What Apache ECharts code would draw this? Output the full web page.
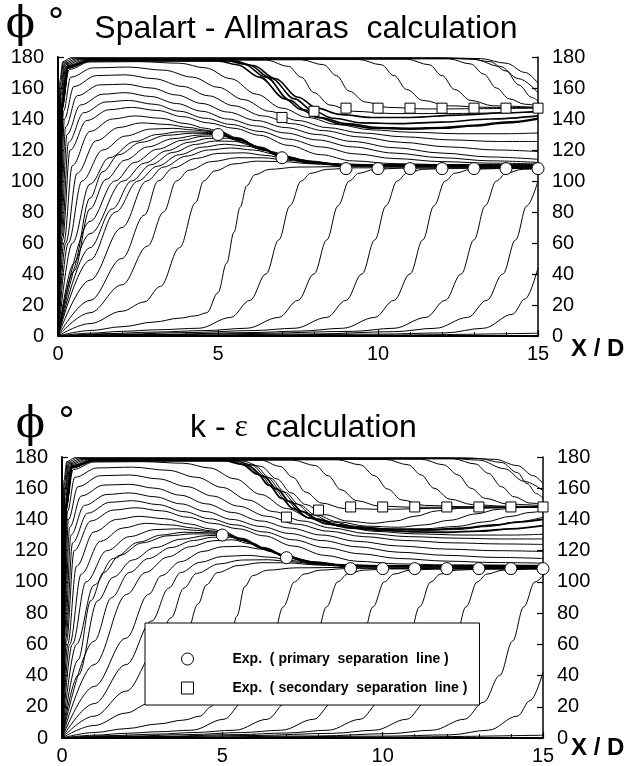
<!DOCTYPE html>
<html><head><meta charset="utf-8">
<script src="https://cdn.jsdelivr.net/npm/echarts@6/dist/echarts.min.js"></script>
<style>html,body{margin:0;padding:0;background:#fff}#c{width:634px;height:766px}</style>
</head><body><div id="c"></div>
<script>
// ---------------- Spalart - Allmaras panel (x/D, phi in degrees) ----------------
const saTopLines = [
 [[0,0],[0.02,90],[0.06,165],[0.15,177],[0.4,179.5],[12,179.5],[13.2,179],[14,176],[14.6,170],[15,163]],
 [[0,0],[0.02,85],[0.07,162],[0.17,176.5],[0.5,179.3],[12,179.3],[13,178.5],[13.8,174],[14.4,166],[15,157]],
 [[0,0],[0.03,80],[0.08,158],[0.2,176],[0.6,179],[12.8,179],[13.5,177],[14,171],[14.4,162],[14.8,154],[15,151.5]],
 [[0,0],[0.03,75],[0.09,155],[0.22,175.5],[0.7,178.8],[12.2,178.8],[12.9,175.5],[13.3,169],[13.7,160],[14.1,153],[14.6,149.5],[15,148.5]],
 [[0,0],[0.04,72],[0.1,152],[0.25,175],[0.8,178.6],[10.9,178.6],[11.6,175],[12,168],[12.4,159],[12.9,152],[13.6,148.5],[15,147.5]],
 [[0,0],[0.04,68],[0.11,150],[0.28,174.5],[0.9,178.4],[9.4,178.4],[10.1,175],[10.5,168],[10.9,159],[11.4,152],[12.2,148.5],[13.5,147.5],[15,147.3]],
 [[0,0],[0.05,65],[0.12,148],[0.3,174],[1,178.2],[7.6,178.2],[8.3,175],[8.7,168],[9.1,158],[9.6,151],[10.3,147.5],[11.5,146.5],[15,147]],
 [[0,0],[0.05,62],[0.13,146],[0.32,173.5],[1.1,178],[6.5,178],[7.2,174],[7.6,167],[8.0,157],[8.5,149],[9.2,145],[10.5,143.5],[12,143.5],[15,144.5]]
];
const saBoldLines = [
 [[0,0],[0.04,70],[0.12,150],[0.3,174],[1,178],[5.2,178],[5.8,175.5],[6.5,167],[7.25,152],[7.7,146],[8.2,141],[9,137],[10,134.5],[11,134],[12,134.5],[13,136],[14,138],[15,140.5]],
 [[0,0],[0.045,68],[0.13,149],[0.32,173.5],[1,177.7],[5.0,177.5],[5.6,175],[6.3,167],[7.1,153],[7.6,146],[8.1,141],[8.9,136.5],[9.9,134],[11,133.5],[12,134],[13,135.5],[14,137.5],[15,140]],
 [[0,0],[0.045,66],[0.13,147],[0.32,173],[1,177.6],[5.5,177.6],[6.1,174.5],[6.8,166],[7.5,154],[8.1,147],[8.8,143],[9.8,141],[11,141],[12.5,142.5],[14,144],[15,145]],
 [[0,0],[0.045,67],[0.13,148],[0.32,173.2],[1,177.8],[5.35,177.8],[5.95,175],[6.65,166.5],[7.4,153],[7.95,145.5],[8.6,140.5],[9.5,137.5],[10.7,137],[12,138],[13.5,140],[15,142]]
];
const saMidLines = [
 [[0,0],[0.05,75],[0.14,150],[0.35,172],[1,176.8],[2.5,177],[3.8,176],[4.6,173],[5.4,166],[6.2,156],[7,147],[7.8,141],[8.7,136.5],[9.8,133],[11,131.5],[12.5,130.5],[14,130.5],[15,131]],
 [[0,0],[0.06,72],[0.17,145],[0.4,167],[1.1,173],[2.2,173.5],[3.3,171.5],[4.2,167],[5,160.5],[5.8,152.5],[6.6,145],[7.5,139],[8.4,134.5],[9.5,131],[10.8,128.5],[12.3,126.5],[13.7,125.5],[15,125.5]],
 [[0,0],[0.07,70],[0.2,140],[0.5,161],[1.2,168],[2.1,168.5],[3,166],[3.9,161],[4.7,155],[5.5,148.5],[6.4,142],[7.3,137],[8.3,132.5],[9.4,128.5],[10.7,125],[12.2,122],[13.7,120],[15,119]],
 [[0,0],[0.08,68],[0.24,135],[0.6,155],[1.3,162],[2.1,162.5],[2.9,160],[3.7,155.5],[4.5,150],[5.3,144.5],[6.2,139],[7.1,134.5],[8.1,130],[9.2,125.5],[10.5,121.5],[12,118],[13.5,115.5],[15,114]],
 [[0,0],[0.1,66],[0.28,130],[0.7,149],[1.4,156],[2.1,157],[2.9,154.5],[3.7,150],[4.5,145],[5.3,140],[6.2,135.5],[7.1,131],[8.1,126.5],[9.2,122],[10.5,118],[12,115],[13.5,113],[15,112]],
 [[0,0],[0.12,64],[0.33,125],[0.8,144],[1.5,151],[2.2,152],[3,149.5],[3.8,145],[4.6,140.5],[5.4,136.5],[6.3,132],[7.2,127],[8.2,122],[9.3,117.5],[10.5,114.5],[12,112.5],[13.5,111.5],[15,111]],
 [[0,0],[0.14,62],[0.38,120],[0.9,139],[1.6,146],[2.3,147.5],[3.1,145.5],[3.9,141.5],[4.7,137.5],[5.5,134],[6.3,129.5],[7.2,123],[8.2,117],[9.2,113],[10.5,111.2],[12,110.6],[15,110.4]]
];
const saConvLines = [
 [[0,0],[0.18,60],[0.45,110],[1,132],[1.7,140],[2.4,142],[3.2,140.5],[4,137],[4.6,134],[5,132.5],[5.6,128],[6.3,122],[7,116.5],[7.8,113],[8.8,111],[10,110.5],[15,110.3]],
 [[0,0],[0.24,60],[0.6,105],[1.2,126],[1.9,134.5],[2.6,137.5],[3.4,136.5],[4.1,134.5],[4.6,132.8],[5,131.8],[5.6,127.6],[6.3,121.6],[7,116.2],[7.8,112.8],[8.8,110.8],[10,110.4],[15,110.2]],
 [[0,0],[0.32,60],[0.75,100],[1.4,120],[2.1,129],[2.9,133.5],[3.6,134],[4.2,133],[4.6,132.2],[5,131.4],[5.6,127.3],[6.3,121.4],[7,116],[7.8,112.6],[8.8,110.7],[10,110.3],[15,110.1]],
 [[0,0],[0.45,60],[1,98],[1.6,115],[2.4,125.5],[3.1,130],[3.8,131.8],[4.4,131.6],[5,131],[5.6,127],[6.3,121.2],[7,115.8],[7.8,112.4],[8.8,110.6],[10,110.2],[15,110]],
 [[0,0],[0.5,47],[1,89],[1.4,106],[1.9,117],[2.6,125],[3.4,129.5],[4.2,130.8],[5,130.6],[5.6,126.7],[6.3,121],[7,115.6],[7.8,112.2],[8.8,110.5],[10,110.1],[15,109.9]],
 [[0,0],[0.5,42],[1,82],[1.5,101],[2.1,113.5],[2.8,122],[3.6,127.3],[4.4,129.6],[5,130.2],[5.6,126.4],[6.3,120.8],[7,115.4],[7.8,112],[8.8,110.4],[10,110],[15,109.8]],
 [[0,0],[1,74],[1.78,100],[2.4,112],[3.1,120.5],[3.9,126.3],[4.5,128.8],[5.1,129.3],[5.7,126],[6.4,120.3],[7,115.3],[7.8,111.9],[8.8,110.3],[10,109.9],[15,109.7]],
 [[0,0],[1,66],[2.04,100],[2.7,111.5],[3.4,119.5],[4.1,125],[4.7,127.5],[5.3,127.6],[5.9,124.5],[6.5,119.8],[7.1,115.1],[7.9,111.8],[8.9,110.2],[10,109.8],[15,109.6]],
 [[0,0],[1,57],[1.7,82],[2.3,100],[2.9,110.5],[3.6,118.5],[4.3,123.6],[4.9,125.8],[5.5,125.6],[6.1,122.8],[6.7,118.8],[7.3,114.6],[8,111.6],[9,110],[15,109.5]],
 [[0,0],[1,49],[1.8,80],[2.5,100],[3.1,109.5],[3.8,117],[4.5,121.8],[5.2,123.7],[5.9,122.5],[6.5,119.5],[7.2,115.5],[8,112],[9,110],[15,109.5]],
 [[0,0],[1,36],[2,70],[2.77,100],[3.3,109],[4,116],[4.7,120],[5.4,121.3],[6.1,120],[6.8,117.3],[7.5,114],[8.3,111.3],[9.3,110],[15,109.4]]
];
const saLowLines = [
 [[0,0],[1,23],[2,50],[2.7,78],[3.13,100],[3.6,108.5],[4.3,114.5],[5,117.8],[5.8,118.2],[6.5,116.5],[7.2,114],[8,111.5],[9,110],[15,109.4]],
 [[0,0],[1,15],[2,33],[2.8,58],[3.3,80],[3.7,100],[4.1,107],[4.8,112.5],[5.6,115],[6.4,115],[7.2,113.3],[8,111.3],[9,110],[15,109.3]],
 [[0,0],[1,8],[2,16],[2.7,22],[3.2,32],[3.8,57],[4.3,86],[4.55,100],[4.9,106.5],[5.5,111],[6.2,112.8],[7,112.5],[8,111],[9,109.8],[15,109.2]],
 [[0,0],[1,3.5],[2,6],[3,9],[3.8,11.5],[4.3,13],[4.65,15],[5.0,28],[5.27,47],[5.5,67],[5.69,83],[5.9,97],[6.15,104],[6.6,107.5],[7.5,109],[9,109.3],[15,109.2]],
 [[0,0],[1,1.8],[2,3],[3.1,4],[4.4,5],[5.4,12],[6.0,23],[6.5,40],[6.9,62],[7.25,84],[7.6,100],[7.9,105],[8.4,107.5],[9.2,108.5],[15,108.7]],
 [[0,0],[1.5,1.5],[3,2.5],[4.6,3.5],[5.9,5],[6.9,12],[7.5,23],[8,40],[8.4,62],[8.75,84],[9.1,100],[9.4,105],[9.9,107.5],[10.7,108.3],[15,108.5]],
 [[0,0],[2,1.2],[4,2.2],[6.1,3.5],[7.4,5],[8.4,12],[9,23],[9.5,40],[9.9,62],[10.25,84],[10.6,100],[10.9,105],[11.4,107.5],[12.2,108.2],[15,108.3]],
 [[0,0],[3,1],[6,2.2],[7.6,3.2],[8.9,5],[9.9,12],[10.5,23],[11,40],[11.4,62],[11.75,84],[12.1,100],[12.4,105],[12.9,107.5],[13.7,108],[15,108.2]],
 [[0,0],[3,0.8],[6,1.6],[9.2,3],[10.5,5],[11.5,12],[12.1,23],[12.6,40],[13.0,62],[13.35,84],[13.7,100],[14.0,105],[14.5,107.5],[15,108]],
 [[0,0],[4,0.6],[8,1.3],[10.5,2.8],[11.8,5],[12.8,12],[13.4,23],[13.9,40],[14.3,62],[14.65,84],[15,100]],
 [[0,0],[5,0.4],[10,1.2],[12.1,2],[13.3,5],[14.2,14],[14.6,24],[15,44]],
 [[0,0],[5,0.2],[10,0.6],[15,1.8]]
];
const saPrimary = [[5,130],[7,115],[9,108],[10,108],[11,108],[12,108],[13,108],[14,108],[15,108]];
const saSecondary = [[7,141],[8,145],[9,147],[10,147],[11,147],[12,147],[13,147],[14,147],[15,147]];

// ---------------- k - epsilon panel ----------------
const keTopLines = [
 [[0,0],[0.02,90],[0.06,165],[0.15,177],[0.4,179.5],[12.5,179.5],[13.5,178.5],[14.2,174.5],[14.7,168],[15,163]],
 [[0,0],[0.02,85],[0.07,162],[0.17,176.5],[0.5,179.3],[12,179.3],[13,178],[13.8,172.5],[14.4,164.5],[15,158.5]],
 [[0,0],[0.03,80],[0.08,158],[0.2,176],[0.6,179],[13,179],[13.7,176.5],[14.2,170],[14.5,163],[14.8,156.5],[15,153.5]],
 [[0,0],[0.03,75],[0.09,155],[0.22,175.5],[0.7,178.8],[12.2,178.8],[12.9,175.5],[13.3,169.5],[13.7,161],[14.1,154.5],[14.6,150.5],[15,149.5]],
 [[0,0],[0.04,72],[0.1,152],[0.25,175],[0.8,178.6],[11.2,178.6],[11.9,175],[12.35,168.5],[12.75,160],[13.2,153.5],[13.9,149.8],[15,148.8]],
 [[0,0],[0.04,68],[0.11,150],[0.28,174.5],[0.9,178.4],[10.1,178.4],[10.8,175],[11.2,168.5],[11.6,160],[12.1,153],[12.8,149.5],[13.8,148.5],[15,148.3]],
 [[0,0],[0.05,65],[0.12,148],[0.3,174],[1,178.2],[8.6,178.2],[9.3,175],[9.75,168],[10.15,159.5],[10.6,152.5],[11.3,149],[12.5,148.2],[15,148]],
 [[0,0],[0.05,63],[0.12,147],[0.31,173.7],[1,178.1],[7.2,178],[7.9,174.5],[8.3,168],[8.7,159],[9.2,152],[9.9,148.5],[11,147.8],[15,147.8]],
 [[0,0],[0.05,62],[0.13,146],[0.32,173.5],[1.1,178],[6.2,178],[6.8,174],[7.2,167],[7.6,157.5],[8.1,150.5],[8.8,147],[10,146.5],[12,147.2],[15,147.8]]
];
const keBoldLines = [
 [[0,0],[0.04,70],[0.12,150],[0.3,174],[1,178],[5.0,178],[5.6,175.5],[6.1,169],[6.45,162],[6.85,153.5],[7.2,147],[7.7,141],[8.3,137],[9,134.5],[10,133],[11,132],[12,131.8],[13,132.5],[14,134],[15,136]],
 [[0,0],[0.045,68],[0.13,149],[0.32,173.5],[1,177.7],[5.2,177.5],[5.8,174.5],[6.3,167.5],[6.7,159.5],[7.1,151.5],[7.5,145],[8,140],[8.6,136.5],[9.4,134.5],[10.5,133.5],[11.5,133.5],[12.5,134.5],[13.5,136.5],[14.3,138.5],[15,140]]
];
const keRiseLines = [
 [[0,0],[0.045,66],[0.13,147],[0.32,173],[1,177.6],[5.6,177.6],[6.2,174],[6.7,166],[7.15,157],[7.6,149.5],[8.2,143],[8.9,139],[9.7,137.5],[10.4,139],[11,142],[11.7,145.5],[12.5,147.3],[15,148]],
 [[0,0],[0.045,67],[0.13,148],[0.32,173.2],[1,177.8],[5.4,177.8],[6.0,174.5],[6.5,166.5],[6.95,157.5],[7.4,149.5],[7.9,143],[8.6,138.5],[9.5,135.7],[10.5,135],[11.3,136.5],[12.1,139.5],[12.9,143.5],[13.6,146.5],[14.3,147.7],[15,148]],
 [[0,0],[0.046,67],[0.13,148],[0.32,173.3],[1,177.9],[5.3,177.9],[5.9,175],[6.4,167],[6.85,158],[7.3,150],[7.8,143],[8.4,138.5],[9.2,135.5],[10.2,134],[11.3,134],[12.3,135.5],[13.2,138.5],[14,142],[14.6,144.5],[15,145.5]],
 [[0,0],[0.046,68],[0.13,148.5],[0.32,173.4],[1,177.9],[5.1,177.8],[5.7,175],[6.2,168],[6.6,160],[7.0,152],[7.4,145.5],[7.9,140.5],[8.5,137],[9.3,134.8],[10.3,133.5],[11.3,133],[12.3,133.5],[13.3,135.5],[14.2,138.5],[15,141.5]]
];
const keMidLines = [
 [[0,0],[0.05,75],[0.14,150],[0.35,172],[1,176.8],[2.5,177],[3.8,176],[4.6,173],[5.4,166],[6.2,156],[7,147],[7.8,140.5],[8.7,135.5],[9.8,132.3],[11,130.8],[12.5,130],[14,130],[15,130.5]],
 [[0,0],[0.06,72],[0.17,145],[0.4,167],[1.1,173],[2.2,173.5],[3.3,171.5],[4.2,167],[5,160.5],[5.8,152.5],[6.6,145],[7.5,139],[8.4,134.5],[9.5,131],[10.8,129],[12.3,128],[13.7,127.5],[15,127.5]],
 [[0,0],[0.07,70],[0.2,140],[0.5,161],[1.2,168],[2.1,168.5],[3,166],[3.9,161],[4.7,155],[5.5,148.5],[6.4,142],[7.3,137],[8.3,132.5],[9.4,129],[10.7,126.5],[12.2,125],[13.7,124.3],[15,124]],
 [[0,0],[0.08,68],[0.24,135],[0.6,155],[1.3,162],[2.1,162.5],[2.9,160],[3.7,155.5],[4.5,150],[5.3,144.5],[6.2,139],[7.1,134.5],[8.1,130],[9.2,126],[10.5,123],[12,121],[13.5,120],[15,119.5]],
 [[0,0],[0.1,66],[0.28,130],[0.7,149],[1.4,156],[2.1,157],[2.9,154.5],[3.7,150],[4.5,145],[5.3,140],[6.2,135.5],[7.1,131],[8.1,126.5],[9.2,122.5],[10.5,119],[12,117],[13.5,115.7],[15,115]],
 [[0,0],[0.12,64],[0.33,125],[0.8,144],[1.5,151],[2.2,152],[3,149.5],[3.8,145],[4.6,140.5],[5.4,136.5],[6.3,132],[7.2,127],[8.2,122],[9.3,118],[10.5,115],[12,113.3],[13.5,112.4],[15,112]],
 [[0,0],[0.14,62],[0.38,120],[0.9,139],[1.6,146],[2.3,147.5],[3.1,145.5],[3.9,141.5],[4.7,137.5],[5.5,134],[6.3,129.5],[7.2,123],[8.2,117],[9.2,113.2],[10.5,111.5],[12,110.9],[15,110.6]]
];
const keConvLines = [
 [[0,0],[0.18,60],[0.45,110],[1,132],[1.7,140],[2.4,142],[3.2,140.5],[4,137],[4.6,134],[5,132.5],[5.6,128],[6.3,122],[7,116.8],[7.8,113],[8.8,111],[10,110.5],[15,110.3]],
 [[0,0],[0.24,60],[0.6,105],[1.2,126],[1.9,134.5],[2.6,137.5],[3.4,136.5],[4.1,134.5],[4.6,132.8],[5,131.8],[5.6,127.6],[6.3,121.6],[7,116.5],[7.8,112.8],[8.8,110.8],[10,110.4],[15,110.2]],
 [[0,0],[0.32,60],[0.75,100],[1.4,120],[2.1,129],[2.9,133.5],[3.6,134],[4.2,133],[4.6,132.2],[5,131.4],[5.6,127.3],[6.3,121.4],[7,116.3],[7.8,112.6],[8.8,110.7],[10,110.3],[15,110.1]],
 [[0,0],[0.45,60],[1,98],[1.6,115],[2.4,125.5],[3.1,130],[3.8,131.8],[4.4,131.6],[5,131],[5.6,127],[6.3,121.2],[7,116],[7.8,112.4],[8.8,110.6],[10,110.2],[15,110]],
 [[0,0],[0.5,50],[0.9,88],[1.3,106],[1.8,117],[2.5,125],[3.3,129.5],[4.1,130.8],[5,130.6],[5.6,126.7],[6.3,121],[7,115.8],[7.8,112.2],[8.8,110.5],[10,110.1],[15,109.9]],
 [[0,0],[0.5,40],[1.12,88],[1.6,103],[2.2,114],[2.9,122],[3.7,127.3],[4.5,129.6],[5.1,130],[5.7,126.2],[6.4,120.6],[7,115.6],[7.8,112],[8.8,110.4],[10,110],[15,109.8]],
 [[0,0],[1,62],[1.55,90],[2.1,106],[2.7,115],[3.4,122],[4.1,126.5],[4.7,128.6],[5.3,128.6],[5.9,125],[6.5,119.8],[7.1,115.3],[7.9,111.9],[8.9,110.3],[10,109.9],[15,109.7]],
 [[0,0],[1,47],[2.02,92],[2.6,106],[3.3,116],[4,122.5],[4.7,126.3],[5.3,127],[5.9,124.3],[6.5,119.6],[7.1,115.2],[7.9,111.8],[8.9,110.2],[10,109.8],[15,109.6]],
 [[0,0],[1,33],[2,64],[2.7,92],[3.1,104],[3.7,113],[4.4,119.5],[5,122.5],[5.6,122.8],[6.2,121],[6.8,117.8],[7.4,114.4],[8.1,111.5],[9,110],[15,109.5]]
];
const keLowLines = [
 [[0,0],[1,22],[2,47],[2.8,75],[3.33,96],[3.7,106],[4.3,112.5],[5,116.3],[5.8,117],[6.5,115.8],[7.2,113.6],[8,111.4],[9,110],[15,109.4]],
 [[0,0],[1,14],[2,30],[2.9,55],[3.4,77],[3.8,96],[4.2,105.5],[4.9,111.5],[5.6,114],[6.4,114.2],[7.2,112.8],[8,111.1],[9,109.9],[15,109.3]],
 [[0,0],[1,8],[2,16],[2.7,22],[3.2,32],[3.8,60],[4.25,86],[4.5,98],[4.85,106],[5.5,110.5],[6.2,112.3],[7,112.2],[8,110.8],[9,109.8],[15,109.2]],
 [[0,0],[1,3.5],[2,6],[3,9],[3.8,11.5],[4.3,14],[4.65,20],[4.95,35],[5.2,55],[5.45,78],[5.7,97],[5.95,104],[6.4,107.5],[7.3,109],[9,109.3],[15,109.3]],
 [[0,0],[1,1.8],[2,3],[3,4],[4.05,5],[5.05,12],[5.65,23],[6.15,40],[6.55,62],[6.9,84],[7.25,100],[7.55,105],[8.05,107.5],[8.85,108.5],[15,108.8]],
 [[0,0],[1.5,1.5],[3,2.5],[4.1,3.5],[5.4,5],[6.4,12],[7.0,23],[7.5,40],[7.9,62],[8.25,84],[8.6,100],[8.9,105],[9.4,107.5],[10.2,108.3],[15,108.6]],
 [[0,0],[2,1.2],[4,2.2],[5.6,3.5],[6.85,5],[7.85,12],[8.45,23],[8.95,40],[9.35,62],[9.7,84],[10.05,100],[10.35,105],[10.85,107.5],[11.65,108.2],[15,108.4]],
 [[0,0],[3,1],[5.5,2.2],[7,3.2],[8.3,5],[9.3,12],[9.9,23],[10.4,40],[10.8,62],[11.15,84],[11.5,100],[11.8,105],[12.3,107.5],[13.1,108.2],[15,108.4]],
 [[0,0],[3,0.8],[6,1.6],[8.45,3],[9.75,5],[10.75,12],[11.35,23],[11.85,40],[12.25,62],[12.6,84],[12.95,100],[13.25,105],[13.75,107.5],[14.5,108.2],[15,108.4]],
 [[0,0],[4,0.6],[8,1.3],[10.2,2.8],[11.55,5],[12.55,12],[13.15,23],[13.65,40],[14.05,62],[14.4,84],[14.75,100],[15,104]],
 [[0,0],[5,0.4],[10,1.2],[12.1,2],[13.3,5],[14.2,14],[14.6,24],[15,42]],
 [[0,0],[5,0.2],[10,0.6],[15,1.8]]
];
const kePrimary = [[5,130],[7,115.5],[9,108.5],[10,108.5],[11,108.5],[12,108.5],[13,108.5],[14,108.5],[15,108.5]];
const keSecondary = [[7,141.5],[8,146],[9,148],[10,148],[11,148],[12,148],[13,148],[14,148],[15,148]];

const xTicks = {min:0, max:15, interval:5};
const yTicks = {min:0, max:180, interval:20};
const primaryName = 'Exp.  ( primary  separation  line )';
const secondaryName = 'Exp.  ( secondary  separation  line )';

// ---------------- build ----------------
const FONT = '"Liberation Sans", Arial, Helvetica, sans-serif';
const SERIF = '"DejaVu Serif", "Liberation Serif", serif';
const series = [];
function addLines(lines, g, w) {
  lines.forEach(function (d) {
    series.push({type:'line', xAxisIndex:g, yAxisIndex:g*2, data:d, symbol:'none', showSymbol:false,
      smooth:0.35, smoothMonotone:'x', silent:true, animation:false, clip:true, z:2,
      lineStyle:{color:'#000', width:w}});
  });
}
addLines(saTopLines,0,1); addLines(saBoldLines,0,1.6); addLines(saMidLines,0,1);
addLines(saConvLines,0,1); addLines(saLowLines,0,1);
addLines(keTopLines,1,1); addLines(keBoldLines,1,1.8); addLines(keRiseLines,1,1);
addLines(keMidLines,1,1); addLines(keConvLines,1,1); addLines(keLowLines,1,1);

function addExp(name, data, g, sym, size) {
  series.push({type:'scatter', name:name, xAxisIndex:g, yAxisIndex:g*2, data:data, symbol:sym, symbolSize:size,
    symbolKeepAspect:true, silent:true, animation:false, z:5, clip:false,
    itemStyle:{color:'#ffffff', opacity:1, borderColor:'#000', borderWidth:1}});
}
addExp(primaryName, saPrimary, 0, 'circle', 12);
addExp(secondaryName, saSecondary, 0, 'rect', 10);
addExp(primaryName, kePrimary, 1, 'circle', 12);
addExp(secondaryName, keSecondary, 1, 'rect', 10);

function xAx(g) {
  return {gridIndex:g, type:'value', min:xTicks.min, max:xTicks.max, interval:xTicks.interval,
    axisLine:{show:true, onZero:false, lineStyle:{color:'#000', width:2}},
    axisTick:{show:true, inside:true, length:6, lineStyle:{color:'#000', width:1.2}},
    minorTick:{show:true, splitNumber:5, length:4, lineStyle:{color:'#000', width:1}},
    axisLabel:{color:'#000', fontSize:20, fontFamily:FONT, margin:8},
    splitLine:{show:false}, minorSplitLine:{show:false}};
}
function yAx(g, pos) {
  return {gridIndex:g, type:'value', position:pos, min:yTicks.min, max:yTicks.max, interval:yTicks.interval,
    axisLine:{show:true, onZero:false, lineStyle:{color:'#000', width:pos==='left'?2:1.5}},
    axisTick:{show:true, inside:true, length:6, lineStyle:{color:'#000', width:1.2}},
    axisLabel:{color:'#000', fontSize:20, fontFamily:FONT, margin:14},
    splitLine:{show:false}};
}
function txt(x, y, text, font, align) {
  return {type:'text', x:x, y:y, silent:true, z:10,
    style:{text:text, font:font, fill:'#000', textAlign:align||'left', textVerticalAlign:'middle', align:align||'left', verticalAlign:'middle'}};
}

const option = {
  backgroundColor:'#fff',
  animation:false,
  grid:[
    {left:58, top:57, width:480, height:279, containLabel:false},
    {left:62, top:457, width:481, height:281, containLabel:false}
  ],
  xAxis:[xAx(0), xAx(1)],
  yAxis:[yAx(0,'left'), yAx(0,'right'), yAx(1,'left'), yAx(1,'right')],
  legend:{
    data:[{name:primaryName, icon:'circle'}, {name:secondaryName, icon:'rect'}],
    orient:'vertical', left:145, top:623,
    backgroundColor:'#fff', borderColor:'#000', borderWidth:1, borderRadius:0,
    padding:[29,12,10,36], itemWidth:12, itemHeight:12, itemGap:15,
    selectedMode:false, z:20,
    itemStyle:{color:'#ffffff', borderColor:'#000', borderWidth:1, opacity:1},
    formatter:'{t|{name}}',
    textStyle:{color:'#000', fontSize:14, fontWeight:'bold', fontFamily:FONT,
      rich:{t:{color:'#000', fontSize:14, fontWeight:'bold', fontFamily:FONT, padding:[0,0,0,34]}}}
  },
  graphic:[
    txt(20.5, 26, 'ϕ', '43px ' + SERIF, 'center'),
    txt(56, 24, '°', '36px "DejaVu Sans", sans-serif', 'center'),
    txt(306, 29, 'Spalart - Allmaras  calculation', '32px ' + FONT, 'center'),
    txt(571, 349.5, 'X / D', 'bold 24px ' + FONT, 'left'),
    txt(30.5, 425.5, 'ϕ', '43px ' + SERIF, 'center'),
    txt(66.5, 423, '°', '36px "DejaVu Sans", sans-serif', 'center'),
    {type:'text', x:190, y:428, silent:true, z:10,
      style:{text:'{a|k - }{b|ε}{a|  calculation}', fill:'#000', textVerticalAlign:'middle', verticalAlign:'middle',
        rich:{a:{fontSize:32, fontFamily:FONT, fill:'#000', color:'#000'}, b:{fontSize:32, fontFamily:'"Liberation Serif", serif', fill:'#000', color:'#000'}}}},
    txt(571, 748.5, 'X / D', 'bold 24px ' + FONT, 'left')
  ],
  series:series
};
const chart = echarts.init(document.getElementById('c'), null, {renderer:'canvas'});
chart.setOption(option);
</script></body></html>
